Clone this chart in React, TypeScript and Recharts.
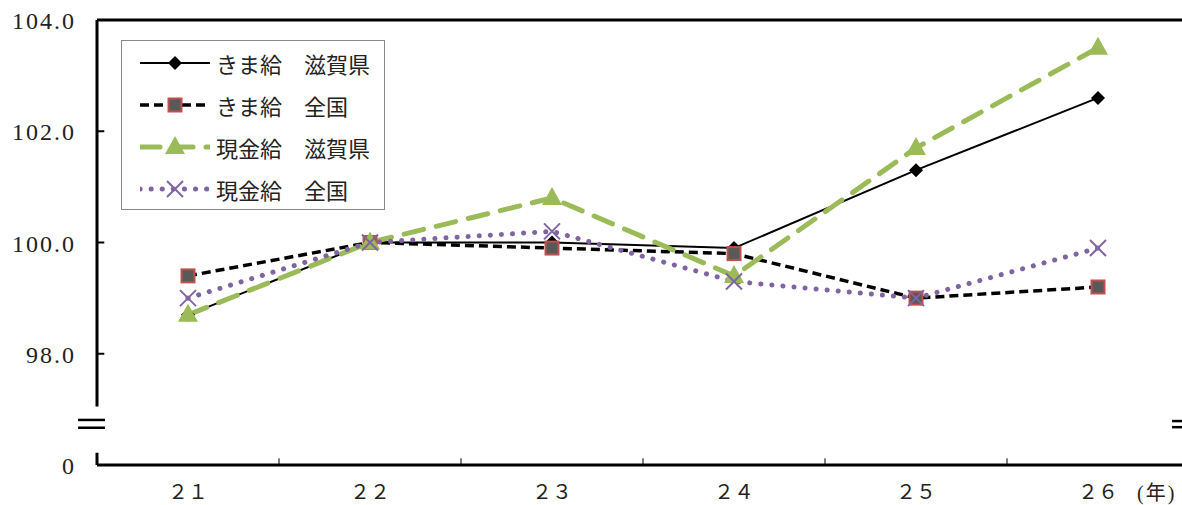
import React from "react";
import {
    LineChart,
    Line,
    XAxis,
    YAxis,
    ReferenceLine,
    Legend,
    Customized,
} from "recharts";

const years = ["２１", "２２", "２３", "２４", "２５", "２６"];
const kimaShiga = [98.7, 100.0, 100.0, 99.9, 101.3, 102.6];
const kimaZenkoku = [99.4, 100.0, 99.9, 99.8, 99.0, 99.2];
const genkinShiga = [98.7, 100.0, 100.8, 99.4, 101.7, 103.5];
const genkinZenkoku = [99.0, 100.0, 100.2, 99.3, 99.0, 99.9];
const yTicks = [96, 98, 100, 102, 104];
const xBoundaries = [1, 2, 3, 4, 5];

const data = years.map((year, i) => ({
    year,
    x: i + 0.5,
    a: kimaShiga[i],
    b: kimaZenkoku[i],
    c: genkinShiga[i],
    d: genkinZenkoku[i],
}));

const FONT = "'Liberation Serif', 'Noto Sans CJK JP', serif";
const GREEN = "#9bbb59";
const PURPLE = "#8064a2";
const RED = "#c0504d";

const Diamond = ({ cx, cy }: any) => (
    <path d={`M${cx},${cy - 7}L${cx + 7},${cy}L${cx},${cy + 7}L${cx - 7},${cy}Z`} fill="#000" />
);
const Square = ({ cx, cy }: any) => (
    <rect x={cx - 6.5} y={cy - 6.5} width={13} height={13} fill="#595959" stroke={RED} strokeWidth={2} />
);
const Triangle = ({ cx, cy }: any) => (
    <path d={`M${cx},${cy - 11}L${cx + 10},${cy + 7}L${cx - 10},${cy + 7}Z`} fill={GREEN} />
);
const Cross = ({ cx, cy }: any) => (
    <g stroke={PURPLE} strokeWidth={2}>
        <line x1={cx - 8} y1={cy - 8} x2={cx + 8} y2={cy + 8} />
        <line x1={cx - 8} y1={cy + 8} x2={cx + 8} y2={cy - 8} />
    </g>
);

const series = [
    { key: "a", name: "きま給　滋賀県", stroke: "#000", width: 2, dash: undefined, cap: "butt", Mark: Diamond },
    { key: "b", name: "きま給　全国", stroke: "#000", width: 3.5, dash: "9 5", cap: "butt", Mark: Square },
    { key: "c", name: "現金給　滋賀県", stroke: GREEN, width: 5, dash: "20 13", cap: "round", Mark: Triangle },
    { key: "d", name: "現金給　全国", stroke: PURPLE, width: 5, dash: "0.1 11", cap: "round", Mark: Cross },
];

const YTick = (props: any) => {
    const { x, y, payload } = props;
    const v = Number(payload.value);
    return (
        <text x={x - 21} y={y + 1} textAnchor="end" dominantBaseline="central"
            style={{ fontSize: 24, fontFamily: FONT, fill: "#222", letterSpacing: 2 }}>
            {v === 96 ? "0" : v.toFixed(1)}
        </text>
    );
};

const LegendBox = () => (
    <div style={{ width: 262, height: 167, border: "1px solid #888", background: "#fff", paddingTop: 1 }}>
        {series.map((s) => (
            <div key={s.key} style={{ height: 42, display: "flex", alignItems: "center", paddingLeft: 18 }}>
                <svg width={70} height={24}>
                    <line x1={0} y1={12} x2={70} y2={12} stroke={s.stroke} strokeWidth={s.width}
                        strokeDasharray={s.dash} strokeLinecap={s.cap as any} />
                    <s.Mark cx={35} cy={12} />
                </svg>
                <span style={{ marginLeft: 6, fontSize: 22, fontFamily: FONT, color: "#222", whiteSpace: "pre" }}>{s.name}</span>
            </div>
        ))}
    </div>
);

const seg = (x1: number, y1: number, x2: number, y2: number, w: number, k: string) => (
    <ReferenceLine key={k} xAxisId="pos" segment={[{ x: x1, y: y1 }, { x: x2, y: y2 }]}
        stroke="#000" strokeWidth={w} ifOverflow="visible" />
);

export default function App() {
    return (
        <div style={{ position: "absolute", left: 0, top: 0, width: 1182, height: 505, overflow: "hidden", background: "#fff" }}>
            <LineChart width={1190} height={505} data={data} margin={{ top: 20, right: 1, bottom: 0, left: 0 }}>
                <XAxis xAxisId="pos" type="number" dataKey="x" domain={[0, 6]} ticks={[0.5, 1.5, 2.5, 3.5, 4.5, 5.5]}
                    interval={0} tickFormatter={(v: number) => years[Math.round(v - 0.5)]}
                    axisLine={{ stroke: "#000", strokeWidth: 3 }} tickLine={false} tickMargin={14} height={40}
                    tick={{ fontSize: 20, fontFamily: FONT, fill: "#222" }} />
                <YAxis xAxisId="pos" type="number" domain={[96, 104]} ticks={yTicks} interval={0} width={97}
                    axisLine={false} tickLine={false} tickSize={0} tickMargin={0}
                    tick={(p: any) => <YTick key={`yt-${p.index}`} {...p} />} />

                <ReferenceLine xAxisId="pos" y={104} stroke="#000" strokeWidth={3} ifOverflow="visible" />
                {seg(0, 104, 0, 97.05, 3, "ya1")}
                {seg(0, 96.22, 0, 96, 3, "ya2")}
                {seg(-0.104, 96.81, 0.044, 96.81, 2.5, "bl1")}
                {seg(-0.104, 96.67, 0.044, 96.67, 2.5, "bl2")}
                {seg(5.907, 96.79, 6, 96.79, 2.5, "br1")}
                {seg(5.907, 96.68, 6, 96.68, 2.5, "br2")}
                {[98, 100, 102].map((v) => seg(0, v, 0.04, v, 2, `yt${v}`))}
                {xBoundaries.map((b) => seg(b, 96, b, 96.12, 1, `xt${b}`))}

                {series.map((s) => (
                    <Line key={s.key} xAxisId="pos" type="linear" dataKey={s.key} name={s.name}
                        stroke={s.stroke} strokeWidth={s.width} strokeDasharray={s.dash}
                        strokeLinecap={s.cap as any} isAnimationActive={false}
                        dot={(p: any) => <s.Mark key={`${s.key}-${p.index}`} cx={p.cx} cy={p.cy} />}
                        activeDot={false} />
                ))}

                <Legend layout="vertical" align="center" verticalAlign="middle" content={<LegendBox />}
                    wrapperStyle={{ left: 121, top: 40, width: 264 }} />
                <Customized component={() => (
                    <text x={1137} y={500} style={{ fontSize: 20, fontFamily: FONT, fill: "#222", letterSpacing: 2 }}>(年)</text>
                )} />
            </LineChart>
        </div>
    );
}
